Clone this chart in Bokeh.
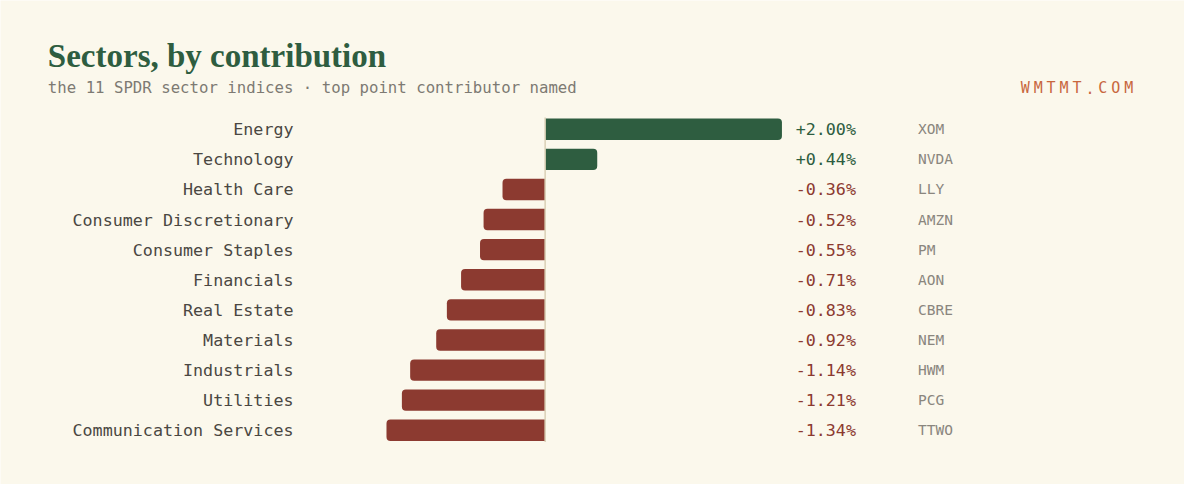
from bokeh.plotting import figure
from bokeh.models import ColumnDataSource, Range1d, Label
from bokeh.embed import file_html
from bokeh.resources import INLINE
from bokeh.core.properties import value

sectors = ["Energy", "Technology", "Health Care", "Consumer Discretionary",
           "Consumer Staples", "Financials", "Real Estate", "Materials",
           "Industrials", "Utilities", "Communication Services"]
contrib = [2.00, 0.44, -0.36, -0.52, -0.55, -0.71, -0.83, -0.92, -1.14, -1.21, -1.34]
tickers = ["XOM", "NVDA", "LLY", "AMZN", "PM", "AON", "CBRE", "NEM", "HWM", "PCG", "TTWO"]

title = "Sectors, by contribution"
subtitle = "the 11 SPDR sector indices \u00b7 top point contributor named"
brand = "WMTMT.COM"

BG = "#FBF8EC"
GREEN = "#2E5D40"
RED = "#8C3A30"
MONO = "DejaVu Sans Mono"

W, H = 1184, 484
SX, SY = W / 1200.0, H / 500.0
PX_PER_UNIT = 120.0 * SX
ZERO_PX = 552.0 * SX
ROW_PX = 31.1 * SY
ROW0_PX = 133.0 * SY

x0 = -ZERO_PX / PX_PER_UNIT
x1 = x0 + W / PX_PER_UNIT
y_top = -ROW0_PX / ROW_PX
y_bot = (H - ROW0_PX) / ROW_PX

p = figure(width=W, height=H, output_backend="svg", toolbar_location=None,
           x_range=Range1d(x0, x1), y_range=Range1d(y_bot, y_top),
           min_border=0, outline_line_color=None,
           background_fill_color=BG, border_fill_color=BG)
p.axis.visible = False
p.grid.visible = False

idx = list(range(len(sectors)))
pos = ColumnDataSource(dict(y=[i for i in idx if contrib[i] >= 0],
                            v=[contrib[i] for i in idx if contrib[i] >= 0]))
neg = ColumnDataSource(dict(y=[i for i in idx if contrib[i] < 0],
                            v=[contrib[i] for i in idx if contrib[i] < 0]))

p.hbar(y="y", left=0, right="v", height=0.71, source=pos, fill_color=GREEN,
       line_color=None, border_radius=(0, 4, 4, 0))
p.hbar(y="y", left="v", right=0, height=0.71, source=neg, fill_color=RED,
       line_color=None, border_radius=(4, 0, 0, 4))

# zero line
p.segment(x0=[0], x1=[0], y0=[-0.39], y1=[len(sectors) - 1 + 0.39],
          line_color="#D9D0B6", line_width=1.5)

labels_src = ColumnDataSource(dict(
    y=idx,
    name=sectors,
    val=[("+" if v >= 0 else "-") + "%.2f%%" % abs(v) for v in contrib],
    col=[GREEN if v >= 0 else RED for v in contrib],
    tick=tickers,
))

def ux(px):
    return (px - 552.0) / 120.0

p.text(x=ux(297), y="y", text="name", source=labels_src, text_align="right",
       text_baseline="middle", text_font=value(MONO), text_font_size="16.7px",
       text_color="#4A4742")
p.text(x=ux(867), y="y", text="val", source=labels_src, text_align="right",
       text_baseline="middle", text_font=value(MONO), text_font_size="16.7px",
       text_color="col")
p.text(x=ux(930), y="y", text="tick", source=labels_src, text_align="left",
       text_baseline="middle", text_font=value(MONO), text_font_size="14.5px",
       text_color="#8A867E")

p.add_layout(Label(x=48 * SX, y=H - 57 * SY, x_units="screen", y_units="screen",
                   text=title, text_font="Liberation Serif", text_font_style="bold",
                   text_font_size="33px", text_color=GREEN,
                   text_baseline="alphabetic"))
p.add_layout(Label(x=48 * SX, y=H - 90 * SY, x_units="screen", y_units="screen",
                   text=subtitle, text_font=MONO, text_font_size="15.7px",
                   text_color="#7D7A73", text_baseline="middle"))

step = 13.1 * SX
right_edge = 1148 * SX
n = len(brand)
for k, ch in enumerate(brand):
    p.add_layout(Label(x=right_edge - (n - 1 - k) * step, y=H - 90 * SY,
                       x_units="screen", y_units="screen", text=ch,
                       text_font=MONO, text_font_size="15px", text_color="#C8673E",
                       text_align="right", text_baseline="middle"))

open("out.html", "w").write(file_html(p, INLINE))
